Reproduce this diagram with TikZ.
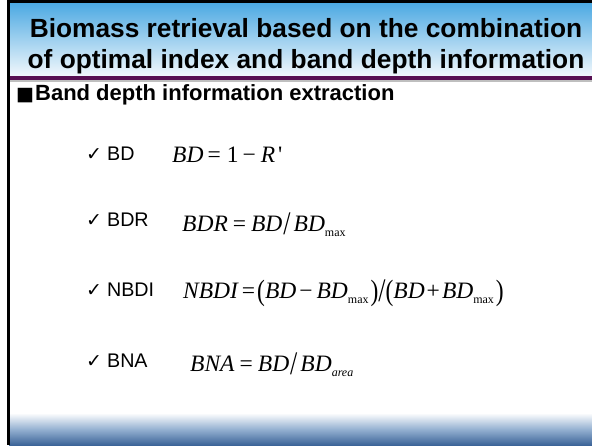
\documentclass[tikz,border=0pt]{standalone}
\usepackage{fontspec}
\usepackage{graphicx}
\setmainfont{Liberation Sans}
\newfontfamily\tnr{Liberation Serif}
\newfontfamily\symf{DejaVu Sans}
\usetikzlibrary{shadings}

\definecolor{hdtop}{RGB}{74,168,226}
\definecolor{hdbot}{RGB}{242,248,252}
\definecolor{purp}{RGB}{88,16,82}
\definecolor{ftblue}{RGB}{60,100,152}
\definecolor{ftmid}{RGB}{150,178,210}

% formula helpers: lowered subscript, tall slash, tall parentheses, spaced operators
\newcommand{\fsub}[1]{\raisebox{-0.22em}{\fontsize{12}{12}\selectfont #1}}
\newcommand{\tslash}{\raisebox{-0.16em}{\scalebox{1.1}[1.4]{/}}}
\newcommand{\tlp}{\raisebox{-0.1em}{\scalebox{1}[1.25]{(}}}
\newcommand{\trp}{\raisebox{-0.1em}{\scalebox{1}[1.25]{)}}}
\newcommand{\op}[3]{\kern#1pt\relax#3\kern#2pt\relax}
\newcommand{\chk}{{\symf\fontsize{19}{19}\selectfont ✓}\hspace{5pt}}
\newcommand{\blk}{{\symf\fontsize{19}{19}\selectfont ■}\hspace{1pt}}

\begin{document}
\begin{tikzpicture}[x=1pt,y=-1pt,
  titletext/.style={font=\fontsize{26.3}{30}\selectfont\bfseries, inner sep=0pt, anchor=base},
  headtext/.style={font=\fontsize{22}{26}\selectfont\bfseries, inner sep=0pt, anchor=base west},
  itemtext/.style={font=\fontsize{19.7}{23}\selectfont, inner sep=0pt, anchor=base west},
  formula/.style={font=\tnr\fontsize{23.5}{27}\selectfont, inner sep=0pt, anchor=base west}]
\useasboundingbox (0,0) rectangle (592,445);
\fill[white] (0,0) rectangle (592,445);

% title band
\shade[top color=hdtop, bottom color=hdbot] (9,2) rectangle (592,76);
\fill[purp] (9,76) rectangle (592,80);
\fill[black!25] (9,80) rectangle (592,81.5);

% footer band
\shade[top color=white, bottom color=ftblue, middle color=ftmid] (9,413) rectangle (592,445);

% frame lines
\fill[black] (7,0) rectangle (10,445);
\fill[black] (7,0) rectangle (592,2.5);

% title
\node[titletext] (t1) at (306,37) {Biomass retrieval based on the combination};
\node[titletext] (t2) at (306,68) {of optimal index and band depth information};

% section heading
\node[headtext] (head) at (16,100) {\blk Band depth information extraction};

% items
\node[itemtext] (bd)   at (86,160) {\chk BD};
\node[itemtext] (bdr)  at (86,226) {\chk BDR};
\node[itemtext] (nbdi) at (86,296) {\chk NBDI};
\node[itemtext] (bna)  at (86,367) {\chk BNA};

% formulas
\node[formula] (fbd) at (172,162)
  {\textit{BD}\op{4}{6}{=}1\op{4}{5}{−}\textit{R}\kern3pt'};
\node[formula] (fbdr) at (182,231)
  {\textit{BDR}\op{5}{5}{=}\textit{BD}\kern1pt\tslash\kern3pt\textit{BD}\fsub{max}};
\node[formula] (fnbdi) at (183,298)
  {\textit{NBDI}\op{3}{2}{=}\tlp\textit{BD}\op{3}{4}{−}\textit{BD}\fsub{max}\kern2pt\trp\tslash\tlp\textit{BD}\op{2}{2}{+}\textit{BD}\fsub{max}\kern2pt\trp};
\node[formula] (fbna) at (190,371)
  {\textit{BNA}\op{5}{5}{=}\textit{BD}\kern1pt\tslash\kern3pt\textit{BD}\fsub{\textit{area}}};
\end{tikzpicture}
\end{document}
